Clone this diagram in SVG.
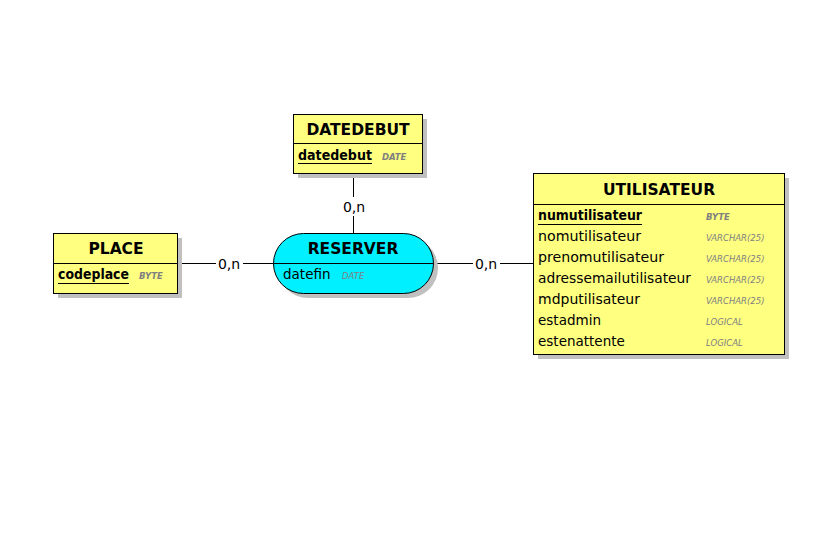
<svg xmlns="http://www.w3.org/2000/svg" width="832" height="552" viewBox="0 0 832 552">
<style>
.box{fill:#ffff80;stroke:#000;stroke-width:1}
.shadow{fill:#c0c0c0}
.div{stroke:#000;stroke-width:1}
.title{font-family:"DejaVu Sans","Noto Sans",sans-serif;font-weight:bold;font-size:15.5px;fill:#000;text-anchor:middle}
.attr{font-family:"DejaVu Sans","Noto Sans",sans-serif;font-size:13.5px;fill:#000}
.key{font-weight:bold}
.type{font-family:"DejaVu Sans","Noto Sans",sans-serif;font-size:8.5px;font-style:italic;fill:#808080}
.ktype{font-weight:bold}
.card{font-family:"DejaVu Sans","Noto Sans",sans-serif;font-size:14px;fill:#000;text-anchor:middle}
.link{stroke:#000;stroke-width:1;fill:none}
</style>
<rect width="832" height="552" fill="#fff"/>
<g id="connectors">
<line class="link" x1="353.5" y1="173" x2="353.5" y2="233"/>
<line class="link" x1="177" y1="263.5" x2="273" y2="263.5"/>
<line class="link" x1="433" y1="263.5" x2="533" y2="263.5"/>
<rect x="340" y="197" width="27" height="19" fill="#fff"/>
<rect x="216" y="255" width="27" height="17" fill="#fff"/>
<rect x="473" y="255" width="27" height="17" fill="#fff"/>
<text class="card" x="354" y="212">0,n</text>
<text class="card" x="229" y="269">0,n</text>
<text class="card" x="486" y="269">0,n</text>
</g>
<g id="DATEDEBUT">
<rect class="shadow" x="298" y="119" width="129" height="59"/>
<rect class="box" x="293.5" y="114.5" width="129" height="59"/>
<line class="div" x1="293.5" y1="143.5" x2="422.5" y2="143.5"/>
<text class="title" x="358" y="135">DATEDEBUT</text>
<text class="attr key" x="298" y="160" textLength="74" lengthAdjust="spacingAndGlyphs">datedebut</text>
<line class="div" x1="298" y1="163.5" x2="372" y2="163.5"/>
<text class="type ktype" x="382" y="160">DATE</text>
</g>
<g id="PLACE">
<rect class="shadow" x="58" y="238" width="124" height="60"/>
<rect class="box" x="53.5" y="233.5" width="124" height="60"/>
<line class="div" x1="53.5" y1="263.5" x2="177.5" y2="263.5"/>
<text class="title" x="116" y="254">PLACE</text>
<text class="attr key" x="58" y="279" textLength="71" lengthAdjust="spacingAndGlyphs">codeplace</text>
<line class="div" x1="58" y1="283.5" x2="129" y2="283.5"/>
<text class="type ktype" x="139" y="279">BYTE</text>
</g>
<g id="RESERVER">
<rect class="shadow" x="278" y="238" width="160" height="60" rx="30" ry="30"/>
<rect x="273.5" y="233.5" width="160" height="60" rx="30" ry="30" fill="#00f0ff" stroke="#000"/>
<line class="div" x1="273.5" y1="263.5" x2="433.5" y2="263.5"/>
<text class="title" x="353" y="254">RESERVER</text>
<text class="attr" x="283" y="279">datefin</text>
<text class="type" x="342" y="279">DATE</text>
</g>
<g id="UTILISATEUR">
<rect class="shadow" x="538" y="178" width="251" height="181"/>
<rect class="box" x="533.5" y="173.5" width="251" height="181"/>
<line class="div" x1="533.5" y1="204.5" x2="784.5" y2="204.5"/>
<text class="title" x="659" y="195">UTILISATEUR</text>
<text class="attr key" x="538" y="220" textLength="104" lengthAdjust="spacingAndGlyphs">numutilisateur</text>
<line class="div" x1="538" y1="224.5" x2="642" y2="224.5"/>
<text class="type ktype" x="706" y="220">BYTE</text>
<text class="attr" x="538" y="241" textLength="103" lengthAdjust="spacingAndGlyphs">nomutilisateur</text>
<text class="type" x="706" y="241">VARCHAR(25)</text>
<text class="attr" x="538" y="262" textLength="126" lengthAdjust="spacingAndGlyphs">prenomutilisateur</text>
<text class="type" x="706" y="262">VARCHAR(25)</text>
<text class="attr" x="538" y="283" textLength="153" lengthAdjust="spacingAndGlyphs">adressemailutilisateur</text>
<text class="type" x="706" y="283">VARCHAR(25)</text>
<text class="attr" x="538" y="304" textLength="102" lengthAdjust="spacingAndGlyphs">mdputilisateur</text>
<text class="type" x="706" y="304">VARCHAR(25)</text>
<text class="attr" x="538" y="325">estadmin</text>
<text class="type" x="706" y="325">LOGICAL</text>
<text class="attr" x="538" y="346">estenattente</text>
<text class="type" x="706" y="346">LOGICAL</text>
</g>
</svg>
